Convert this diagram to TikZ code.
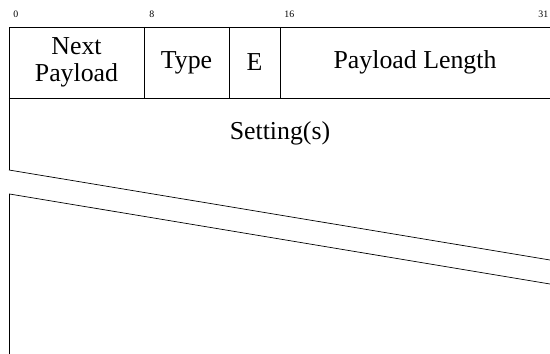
\documentclass[tikz,border=0pt]{standalone}
\usepackage{fontspec}
\setmainfont{Liberation Serif}
\usepackage{tikz}

\tikzset{
  bitlbl/.style={anchor=west, inner sep=0pt, font=\fontsize{5.6}{6}\selectfont},
  fieldlbl/.style={align=center, inner sep=0pt, font=\fontsize{14.7}{15.4}\selectfont}
}

\begin{document}
\begin{tikzpicture}
            \useasboundingbox (0,0) rectangle (11,7.08);
            % bit positions
            \node[bitlbl] (b0) at (0.26,6.8) {0};
            \node[bitlbl] (b8) at (2.98,6.8) {8};
            \node[bitlbl] (b16) at (5.68,6.8) {16};
            \node[bitlbl] (b31) at (10.76,6.8) {31};
            % header row
            \draw (0.18,3.68) -- (0.18,6.54) -- (11,6.54);
            \draw (0.18,5.12) -- (11,5.12);
            \draw (2.88,6.54) -- (2.88,5.12);
            \draw (4.58,6.54) -- (4.58,5.12);
            \draw (5.6,6.54) -- (5.6,5.12);
            \node[fieldlbl] (next) at (1.53,5.83) {Next\\Payload};
            \node[fieldlbl] (type) at (3.73,5.83) {Type};
            \node[fieldlbl] (e) at (5.09,5.83) {E};
            \node[fieldlbl] (len) at (8.3,5.83) {Payload Length};
            % settings, cut off
            \node[fieldlbl] (set) at (5.6,4.42) {Setting(s)};
            \draw (0.18,3.68) -- (11,1.88);
            \draw (0.19,0) -- (0.19,3.2) -- (11,1.4);
        \end{tikzpicture}
\end{document}
